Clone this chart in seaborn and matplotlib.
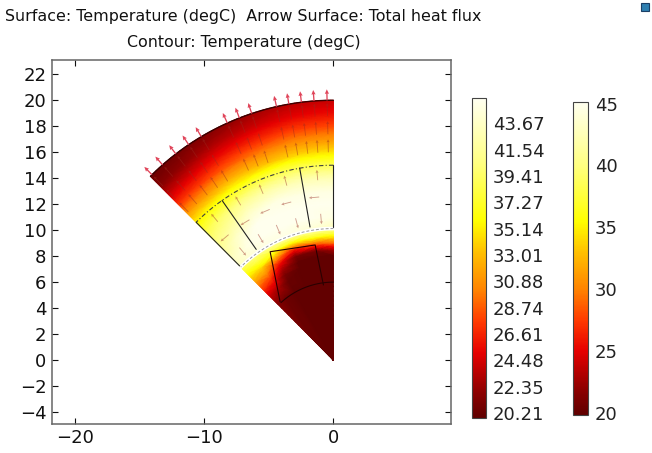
import numpy as np
import matplotlib
matplotlib.use("Agg")
import matplotlib.pyplot as plt
import matplotlib.tri as mtri
from matplotlib.colors import Normalize, LinearSegmentedColormap
from matplotlib.cm import ScalarMappable
from matplotlib.patches import Rectangle
import seaborn as sns

sns.set_theme(style="ticks")
plt.rcParams["font.family"] = ["DejaVu Sans"]

# ---------------- data ----------------
title_line1 = "Surface: Temperature (degC)  Arrow Surface: Total heat flux"
title_line2 = "Contour: Temperature (degC)"

# colour scale (value -> colour) of the "heat" surface palette
cmap_values = [19.85, 22.0, 25.0, 27.5, 30.0, 33.0, 35.5, 40.0, 45.15]
cmap_colors = ["#600000", "#900000", "#e60000", "#ff3a00", "#ff8400",
               "#ffc000", "#ffff00", "#ffff80", "#fffff0"]

# temperature table, outer + middle ring (rows: radius, cols: angle in deg)
ring_theta = [90, 100, 110, 120, 128, 135]
ring_r = [10.25, 11, 12, 13, 14, 15, 16, 17, 18, 19, 20]
ring_T = [
    [43.0, 44.0, 44.5, 44.5, 44.0, 43.0],
    [44.5, 45.0, 45.0, 45.0, 44.5, 43.0],
    [45.0, 45.0, 45.0, 45.0, 43.5, 41.5],
    [44.5, 44.5, 44.5, 43.5, 41.5, 40.0],
    [42.5, 42.5, 42.0, 41.0, 39.5, 38.0],
    [38.5, 38.5, 38.0, 37.0, 36.0, 35.0],
    [34.5, 34.0, 33.0, 32.5, 31.5, 31.0],
    [31.0, 30.5, 29.5, 28.5, 27.5, 27.0],
    [28.0, 27.5, 26.5, 25.5, 24.5, 24.0],
    [25.5, 25.0, 24.0, 23.0, 22.0, 21.5],
    [24.0, 23.5, 22.5, 21.5, 20.8, 20.5],
]

# temperature table, inner (cooled) region
core_theta = [90, 100, 110, 120, 128, 135]
core_r = [0, 6, 7, 7.5, 8, 8.5, 9, 9.5, 10.0]
core_T = [
    [20.0, 20.0, 20.0, 20.0, 20.0, 20.0],
    [20.0, 20.0, 20.0, 20.0, 20.5, 21.5],
    [20.0, 20.0, 20.0, 20.3, 23.0, 24.0],
    [20.0, 20.0, 20.0, 21.0, 25.5, 26.5],
    [20.0, 20.0, 20.0, 23.0, 28.0, 29.0],
    [23.0, 21.0, 21.0, 26.0, 31.0, 31.5],
    [29.0, 28.0, 26.0, 31.5, 34.0, 34.0],
    [35.0, 36.0, 35.0, 37.0, 37.5, 36.5],
    [40.0, 41.0, 41.0, 41.0, 40.0, 38.5],
]

# boundary heat-flux arrows (angle in deg, at the outer radius)
bnd_arrow_theta = [91.4, 94.3, 97.1, 99.9, 102.7, 108.4, 111.3, 114.2,
                   120.7, 124.0, 127.5, 131.3, 134.5]
# interior (faint) arrows
inner_arrow_r = [16.0, 17.4, 18.8]
mid_arrow_r = [11.3, 12.6, 13.9]
mid_arrow_theta = [95, 105, 113, 121, 130]
mid_arrow_turn = [180, 90, 0]  # direction relative to outward radial, per radius

# geometry of the model
r_core, r_gap, r_mid, r_out = 10.0, 10.25, 15.0, 20.0
theta_min, theta_max = 90, 135
radial_lines_theta = [100, 125]
slot_x = [-4.12, -4.89, -1.41, -0.77]
slot_y = [4.49, 8.34, 8.86, 5.78]
slot_arc_r, slot_arc_theta_end = 6.0, 132.5

# axes ticks
x_ticks = [-20, -10, 0]
y_ticks = list(range(-4, 23, 2))

# contour colour bar
contour_levels = [20.21, 22.35, 24.48, 26.61, 28.74, 30.88, 33.01, 35.14,
                  37.27, 39.41, 41.54, 43.67]
contour_labels = ["20.21", "22.35", "24.48", "26.61", "28.74", "30.88",
                  "33.01", "35.14", "37.27", "39.41", "41.54", "43.67"]
surf_ticks = [20, 25, 30, 35, 40, 45]

# ---------------- figure ----------------
W, H = 652, 453
fig = plt.figure(figsize=(W / 100, H / 100), dpi=100)
fig.patch.set_facecolor("white")

vmin, vmax = cmap_values[0], cmap_values[-1]
cmap = LinearSegmentedColormap.from_list(
    "heat", list(zip([(v - vmin) / (vmax - vmin) for v in cmap_values], cmap_colors)))
norm = Normalize(vmin, vmax)

ax = fig.add_axes([52 / W, (H - 423.7) / H, (451 - 52) / W, (423.7 - 60) / H])
ax.set_xlim(-21.75, 9.09)
ax.set_ylim(-4.9, 23.1)
ax.set_facecolor("white")


def polar_field(r_nodes, th_nodes, table):
    TH, R = np.meshgrid(np.radians(th_nodes), r_nodes)
    z = np.asarray(table, dtype=float).ravel()
    tri = mtri.Triangulation(TH.ravel() * 12.0, R.ravel())
    interp = mtri.LinearTriInterpolator(tri, z)
    refiner = mtri.UniformTriRefiner(tri)
    tri_f, z_f = refiner.refine_field(z, triinterpolator=interp, subdiv=4)
    th_f = tri_f.x / 12.0
    r_f = tri_f.y
    tri_xy = mtri.Triangulation(r_f * np.cos(th_f), r_f * np.sin(th_f), tri_f.triangles)
    return tri_xy, z_f


for rn, tn, tab in [(ring_r, ring_theta, ring_T), (core_r, core_theta, core_T)]:
    t, zf = polar_field(rn, tn, tab)
    ax.tripcolor(t, zf, shading="gouraud", cmap=cmap, norm=norm, zorder=1)


def arc(r, t0, t1, **kw):
    th = np.radians(np.linspace(t0, t1, 200))
    ax.plot(r * np.cos(th), r * np.sin(th), **kw)


def radial(th, r0, r1, **kw):
    t = np.radians(th)
    ax.plot([r0 * np.cos(t), r1 * np.cos(t)], [r0 * np.sin(t), r1 * np.sin(t)], **kw)


# geometry lines
arc(r_out, theta_min, theta_max, color="#3a0000", lw=1.0, zorder=3)
arc((r_core + r_gap) / 2, theta_min, theta_max, color="white", lw=2.6, zorder=3)
arc((r_core + r_gap) / 2, theta_min, theta_max, color="#9a9a9a", lw=0.7,
    ls=(0, (3, 2)), zorder=4)
arc(r_mid, theta_min, theta_max, color="#404040", lw=0.8, ls=(0, (4, 2, 1, 2)), zorder=4)
for th in radial_lines_theta:
    radial(th, r_gap + 0.15, r_mid, color="#222222", lw=0.8, zorder=4)
radial(theta_max, r_gap, r_mid, color="#222222", lw=0.8, zorder=4)
radial(theta_min, r_gap, r_mid, color="#222222", lw=0.8, zorder=4)
ax.plot(slot_x, slot_y, color="#2a0000", lw=0.8, zorder=4)
arc(slot_arc_r, theta_min, slot_arc_theta_end, color="#2a0000", lw=0.8, zorder=4)

# interior faint arrows
th_in = np.radians(np.repeat(bnd_arrow_theta, len(inner_arrow_r)))
r_in = np.tile(inner_arrow_r, len(bnd_arrow_theta))
ax.quiver(r_in * np.cos(th_in), r_in * np.sin(th_in),
          1.0 * np.cos(th_in), 1.0 * np.sin(th_in),
          angles="xy", scale_units="xy", scale=1, color="#9a2a20", alpha=0.45,
          width=0.0022, headwidth=3.5, headlength=3.5, headaxislength=3, zorder=5)
mt, mr = np.meshgrid(mid_arrow_theta, mid_arrow_r)
turn = np.repeat(mid_arrow_turn, len(mid_arrow_theta)).reshape(mt.shape)
dirs = np.radians(mt + turn)
ax.quiver(mr * np.cos(np.radians(mt)), mr * np.sin(np.radians(mt)),
          0.8 * np.cos(dirs), 0.8 * np.sin(dirs),
          angles="xy", scale_units="xy", scale=1, color="#a03a30", alpha=0.5,
          width=0.0022, headwidth=3.5, headlength=3.5, headaxislength=3, zorder=5)

# boundary arrows
tb = np.radians(bnd_arrow_theta)
ax.quiver(r_out * np.cos(tb), r_out * np.sin(tb), 0.85 * np.cos(tb), 0.85 * np.sin(tb),
          angles="xy", scale_units="xy", scale=1, color="#e0455a",
          width=0.0033, headwidth=3.2, headlength=3.5, headaxislength=3.2, zorder=6,
          clip_on=False)

# axes styling
ax.set_xticks(x_ticks)
ax.set_yticks(y_ticks)
ax.tick_params(direction="in", top=True, right=True, length=4, width=0.8,
               labelsize=13, pad=4, colors="#111111")
for s in ax.spines.values():
    s.set_color("#666666")
    s.set_linewidth(1.1)
ax.grid(False)

# titles
fig.text(243 / W, 1 - 17 / H, title_line1, ha="center", va="center", fontsize=11.4,
         color="#111111")
fig.text(244 / W, 1 - 43 / H, title_line2, ha="center", va="center", fontsize=11.4,
         color="#111111")

# contour colour bar
cax1 = fig.add_axes([471.7 / W, (H - 418) / H, 14.3 / W, (418 - 98.3) / H])
sm1 = ScalarMappable(norm=Normalize(19.8, 45.7), cmap=cmap)
cb1 = fig.colorbar(sm1, cax=cax1, ticks=contour_levels)
cb1.set_ticklabels(contour_labels)
step = (contour_levels[-1] - contour_levels[0]) / (len(contour_levels) - 1)
minor = np.arange(contour_levels[0] - step, 45.7, step / 8)
cax1.set_yticks(minor[(minor > 19.8) & (minor < 45.7)], minor=True)
cax1.yaxis.set_ticks_position("both")
cax1.tick_params(which="both", direction="in", length=2.5, width=0.6,
                 labelleft=False, labelright=True, labelsize=13, pad=5, colors="#222222")
cb1.outline.set_edgecolor("#444444")
cb1.outline.set_linewidth(0.8)

# surface colour bar
cax2 = fig.add_axes([573.3 / W, (H - 415) / H, 14.4 / W, (415 - 101.7) / H])
sm2 = ScalarMappable(norm=norm, cmap=cmap)
cb2 = fig.colorbar(sm2, cax=cax2, ticks=surf_ticks)
cax2.yaxis.set_ticks_position("both")
cax2.tick_params(which="both", direction="in", length=3, width=0.6,
                 labelleft=False, labelright=True, labelsize=13, pad=5, colors="#222222")
cb2.outline.set_edgecolor("#444444")
cb2.outline.set_linewidth(0.8)

# small toolbar icon at top right
fig.patches.append(Rectangle((641 / W, 1 - 11 / H), 8 / W, 8 / H, transform=fig.transFigure,
                             facecolor="#2f7fb0", edgecolor="#1b3f66", lw=0.8))

fig.savefig("out.png", dpi=100, facecolor="white")
